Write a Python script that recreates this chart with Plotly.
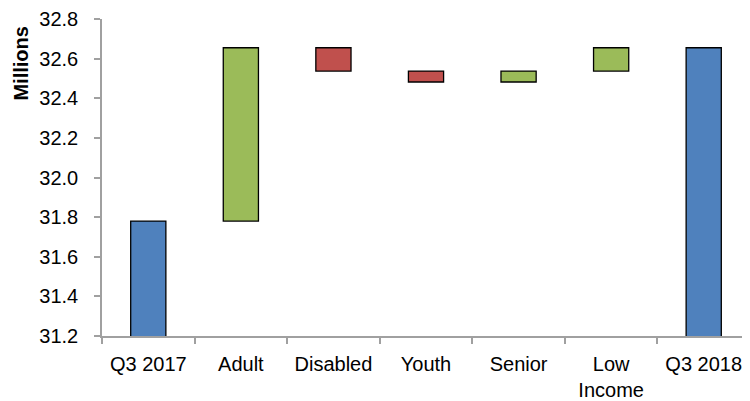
import plotly.graph_objects as go

categories = ["Q3 2017", "Adult", "Disabled", "Youth", "Senior", "Low<br>Income", "Q3 2018"]
values = [31.78, 0.875, -0.118, -0.055, 0.055, 0.118, 32.655]
measures = ["absolute", "relative", "relative", "relative", "relative", "relative", "total"]
y_ticks = [31.2, 31.4, 31.6, 31.8, 32.0, 32.2, 32.4, 32.6, 32.8]

BLUE = "#4F81BD"
GREEN = "#9BBB59"
RED = "#C0504D"
FONT = "Liberation Sans, Arial, sans-serif"

fig = go.Figure(go.Waterfall(
    x=categories,
    y=values,
    measure=measures,
    increasing=dict(marker=dict(color=GREEN, line=dict(color="#000000", width=1.3))),
    decreasing=dict(marker=dict(color=RED, line=dict(color="#000000", width=1.3))),
    totals=dict(marker=dict(color=BLUE, line=dict(color="#000000", width=1.3))),
    connector=dict(visible=False),
    hoverinfo="x+y",
))

fig.update_layout(
    width=742, height=393,
    margin=dict(l=94, r=0, t=8, b=62),
    paper_bgcolor="white", plot_bgcolor="white",
    waterfallgap=0.62,
    showlegend=False,
    font=dict(family=FONT, size=20, color="#000000"),
    xaxis=dict(
        type="category",
        showline=True, linecolor="#A0A0A0", linewidth=1.5,
        ticks="outside", tickson="boundaries", ticklen=6, tickcolor="#A0A0A0", tickwidth=1.5,
        showgrid=False,
        tickfont=dict(family=FONT, size=20, color="#000000"),
        ticklabelstandoff=9,
        ticklabeloverflow="allow",
    ),
    yaxis=dict(
        range=[31.2, 32.8],
        tickvals=y_ticks,
        tickformat=".1f",
        showline=True, linecolor="#A0A0A0", linewidth=1.5,
        ticks="outside", ticklen=6, tickcolor="#A0A0A0", tickwidth=1.5,
        showgrid=False, zeroline=False,
        tickfont=dict(family=FONT, size=20, color="#000000"),
        ticklabelstandoff=12,
        ticklabeloverflow="allow",
    ),
    annotations=[dict(
        text="<b>Millions</b>",
        xref="paper", yref="y",
        x=0, y=32.575,
        xshift=-81,
        xanchor="center", yanchor="middle",
        textangle=-90,
        showarrow=False,
        font=dict(family=FONT, size=20, color="#000000"),
    )],
)

fig.write_html("out.html")
